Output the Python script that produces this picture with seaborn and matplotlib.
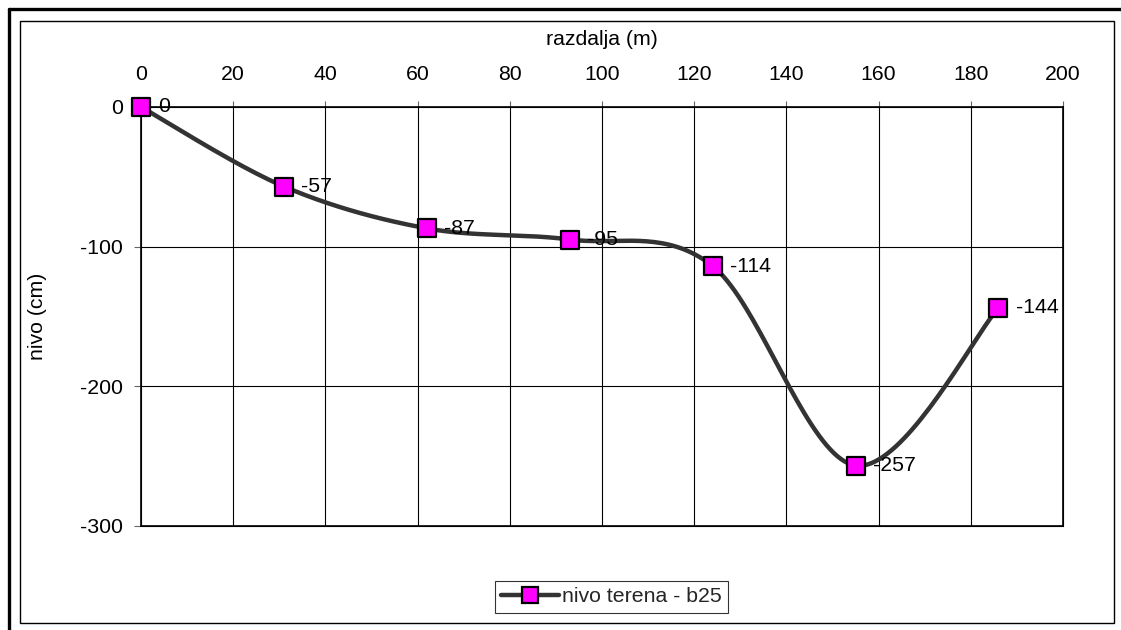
import numpy as np
import pandas as pd
import matplotlib
matplotlib.use("Agg")
import matplotlib.pyplot as plt
from matplotlib.lines import Line2D
import seaborn as sns

# Terrain profile b25: distance along the section and ground level
razdalja = [0, 31, 62, 93, 124, 155, 186]
nivo = [0, -57, -87, -95, -114, -257, -144]
serija = "nivo terena - b25"
x_ticks = [0, 20, 40, 60, 80, 100, 120, 140, 160, 180, 200]
y_ticks = [0, -100, -200, -300]

sns.set_theme(style="white")
plt.rcParams["font.family"] = ["Liberation Sans", "DejaVu Sans"]
plt.rcParams["axes.unicode_minus"] = False

LINE_COLOR = "#333333"
MARKER_FACE = "#FF00FF"
FS = 15.3


def smooth_curve(xs, ys, steps=40):
    """Cardinal (Catmull-Rom) Bezier smoothing through the points."""
    pts = np.column_stack([xs, ys]).astype(float)
    n = len(pts)
    out = [pts[0]]
    t = np.linspace(0, 1, steps)[1:, None]
    for i in range(n - 1):
        p0 = pts[i - 1] if i > 0 else pts[i]
        p1, p2 = pts[i], pts[i + 1]
        p3 = pts[i + 2] if i + 2 < n else pts[i + 1]
        c1 = p1 + (p2 - p0) / 6.0
        c2 = p2 - (p3 - p1) / 6.0
        seg = ((1 - t) ** 3) * p1 + 3 * ((1 - t) ** 2) * t * c1 \
            + 3 * (1 - t) * t ** 2 * c2 + t ** 3 * p2
        out.extend(seg)
    return np.array(out)


df = pd.DataFrame({"razdalja": razdalja, "nivo": nivo})
curve = smooth_curve(razdalja, nivo)
curve_df = pd.DataFrame({"x": curve[:, 0], "y": curve[:, 1]})

fig = plt.figure(figsize=(11.21, 6.30), dpi=100)
ax = fig.add_axes([141 / 1121, 1 - 525.5 / 630, (1063 - 141) / 1121, (525.5 - 107) / 630])

# Gridlines
for xv in x_ticks:
    ax.axvline(xv, color="black", lw=0.8, zorder=1)
for yv in y_ticks:
    ax.axhline(yv, color="black", lw=0.8, zorder=1)

sns.lineplot(data=curve_df, x="x", y="y", sort=False, estimator=None,
             color=LINE_COLOR, lw=3.2, ax=ax, zorder=3, legend=False)
sns.scatterplot(data=df, x="razdalja", y="nivo", marker="s", s=150,
                color=MARKER_FACE, edgecolor="black", linewidth=1.6,
                ax=ax, zorder=4, legend=False)
for coll in ax.collections:
    coll.set_clip_on(False)
for ln in ax.lines:
    ln.set_clip_on(False)

for xv, yv in zip(razdalja, nivo):
    ax.annotate(f"{yv}", (xv, yv), xytext=(12.5, 0), textcoords="offset points",
                ha="left", va="center", fontsize=FS, color="black", zorder=5)

ax.set_xlim(0, 200)
ax.set_ylim(-300, 0)
ax.set_xticks(x_ticks)
ax.set_yticks(y_ticks)
ax.xaxis.tick_top()
ax.xaxis.set_label_position("top")
ax.tick_params(axis="x", which="both", top=True, bottom=False, length=4.5,
               width=0.8, color="#666666", pad=12, labelsize=FS, labelcolor="black")
ax.tick_params(axis="y", which="both", left=True, length=5, width=0.8,
               color="#666666", pad=8, labelsize=FS, labelcolor="black")
ax.set_xlabel("razdalja (m)", fontsize=FS, color="black")
ax.set_ylabel("nivo (cm)", fontsize=FS, color="black")
ax.xaxis.set_label_coords(0.5, 1 + (107 - 45) / 418.5)
ax.yaxis.set_label_coords(-(141 - 47) / 922, 0.5)
for sp in ax.spines.values():
    sp.set_visible(True)
    sp.set_color("black")
    sp.set_linewidth(1.2)

handle = Line2D([0], [0], color=LINE_COLOR, lw=3.2, marker="s", markersize=11,
                markerfacecolor=MARKER_FACE, markeredgecolor="black",
                markeredgewidth=1.6)
leg = fig.legend([handle], [serija], loc="center",
                 bbox_to_anchor=(611.5 / 1121, 1 - 597 / 630),
                 frameon=True, fancybox=False, fontsize=FS, handlelength=2.7,
                 handletextpad=0.15, borderpad=0.3, borderaxespad=0)
leg.get_frame().set_edgecolor("black")
leg.get_frame().set_linewidth(0.8)

# Chart area frame (thin) and outer frame (thick)
W, H = 1121, 630
fig.add_artist(plt.Rectangle((20 / W, 1 - 623 / H), (1114 - 20) / W, (623 - 21) / H,
                             transform=fig.transFigure, fill=False,
                             edgecolor="black", lw=1.0))
fig.add_artist(Line2D([9 / W, 9 / W], [0, 1 - 9 / H], transform=fig.transFigure,
                      color="black", lw=2.4))
fig.add_artist(Line2D([9 / W, 1], [1 - 9 / H, 1 - 9 / H], transform=fig.transFigure,
                      color="black", lw=2.4))

fig.savefig("out.png", dpi=100, facecolor="white")
